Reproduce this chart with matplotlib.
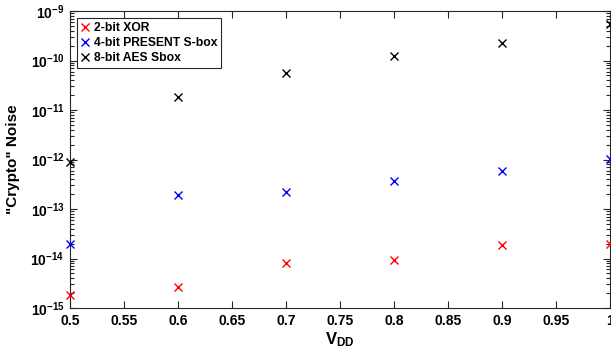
import numpy as np
import matplotlib.pyplot as plt
from matplotlib.ticker import LogLocator, NullFormatter

plt.rcParams['font.family'] = 'Liberation Sans'
plt.rcParams['font.weight'] = 'bold'
plt.rcParams['mathtext.fontset'] = 'custom'
plt.rcParams['mathtext.rm'] = 'Liberation Sans:bold'
plt.rcParams['mathtext.bf'] = 'Liberation Sans:bold'
plt.rcParams['mathtext.it'] = 'Liberation Sans:bold'

vdd = [0.5, 0.6, 0.7, 0.8, 0.9, 1.0]
xor_noise = [1.8e-15, 2.6e-15, 8.1e-15, 9.3e-15, 1.9e-14, 2.0e-14]
present_noise = [2.0e-14, 1.9e-13, 2.2e-13, 3.7e-13, 5.9e-13, 1.03e-12]
aes_noise = [9.0e-13, 1.8e-11, 5.6e-11, 1.25e-10, 2.3e-10, 5.5e-10]

labels = ['2-bit XOR', '4-bit PRESENT S-box', '8-bit AES Sbox']
colors = ['#ff0000', '#0000ff', '#000000']

xticks = [0.5, 0.55, 0.6, 0.65, 0.7, 0.75, 0.8, 0.85, 0.9, 0.95, 1.0]
xticklabels = ['0.5', '0.55', '0.6', '0.65', '0.7', '0.75', '0.8', '0.85', '0.9', '0.95', '1']
ydecades = [-15, -14, -13, -12, -11, -10, -9]

fig = plt.figure(figsize=(6.11, 3.56), dpi=100)
ax = fig.add_axes([0.1146, 0.1348, 0.8834, 0.8342])

for series, lab, c in zip([xor_noise, present_noise, aes_noise], labels, colors):
    ax.plot(vdd, series, linestyle='none', marker='x', markersize=5.5,
            markeredgewidth=1.0, color=c, label=lab, clip_on=False, zorder=3)

ax.set_yscale('log')
ax.set_xlim(0.5, 1.0)
ax.set_ylim(1e-15, 1e-9)
ax.set_xticks(xticks)
ax.set_xticklabels(xticklabels)
ax.set_yticks([10.0 ** d for d in ydecades])
ax.set_yticklabels([r'$10^{%d}$' % d for d in ydecades])
ax.yaxis.set_minor_locator(LogLocator(base=10, subs=np.arange(2, 10), numticks=20))
ax.yaxis.set_minor_formatter(NullFormatter())

ax.tick_params(which='both', direction='in', top=True, right=True,
               labelsize=10, color='#262626', width=0.8)
ax.tick_params(which='major', length=5, pad=4)
ax.tick_params(which='minor', length=3)
for s in ax.spines.values():
    s.set_color('#262626')
    s.set_linewidth(0.8)

ax.set_xlabel(r'$V_{DD}$', fontsize=12)
ax.xaxis.set_label_coords(0.5, -0.075)
ax.set_ylabel('"Crypto" Noise', fontsize=11, fontweight='bold')
ax.yaxis.set_label_coords(-0.093, 0.5)

leg = ax.legend(loc='upper left', fontsize=8.7, handlelength=0.7, handletextpad=0.4,
                borderaxespad=0.6, borderpad=0.3, labelspacing=0.25,
                fancybox=False, edgecolor='#262626', framealpha=1)
leg.get_frame().set_linewidth(0.8)

fig.savefig('out.png', dpi=100)
